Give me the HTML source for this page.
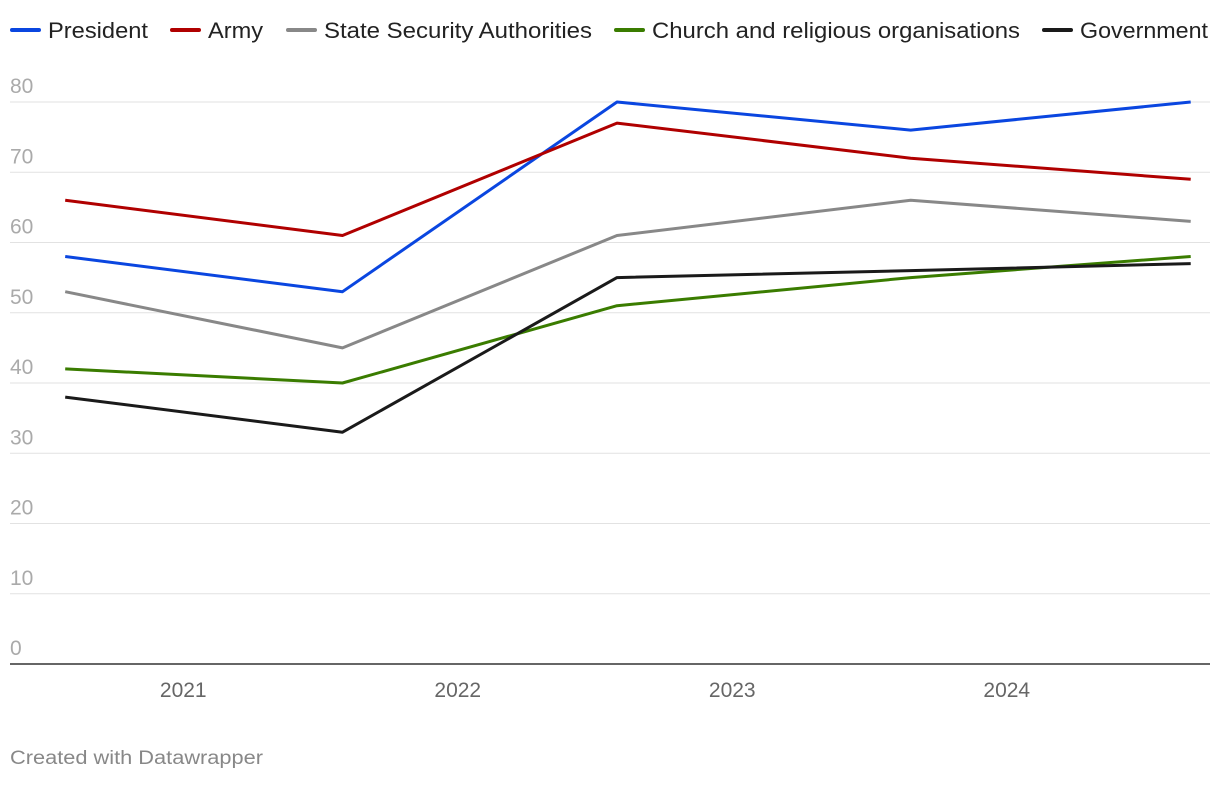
<!DOCTYPE html>
<html><head><meta charset="utf-8"><style>
body{margin:0;background:#fff;font-family:"Liberation Sans",Roboto,sans-serif;}
svg text{font-family:"Liberation Sans",sans-serif;}
</style></head><body>
<svg id="chart" width="1220" height="780" xmlns="http://www.w3.org/2000/svg"></svg>
<script>
const years = [2021, 2022, 2023, 2024];
const dates = [2021.07, 2022.08, 2023.08, 2024.15, 2025.17];
const yTicks = [0, 10, 20, 30, 40, 50, 60, 70, 80];
const seriesNames = ["President", "Army", "State Security Authorities", "Church and religious organisations", "Government"];
const seriesColors = ["#0a46e0", "#b00000", "#888888", "#3a7c00", "#1a1a1a"];
const president = [58, 53, 80, 76, 80];
const army = [66, 61, 77, 72, 69];
const ssa = [53, 45, 61, 66, 63];
const church = [42, 40, 51, 55, 58];
const government = [38, 33, 55, 56, 57];
const allSeries = [president, army, ssa, church, government];

const svg = document.getElementById('chart');
const NS = 'http://www.w3.org/2000/svg';
function y(v){ return 664 - v * 7.025; }
function x(t){ return 46 + (t - 2021) * 274.5; }
function mk(tag, attrs){ const e = document.createElementNS(NS, tag); for (const k in attrs) e.setAttribute(k, attrs[k]); svg.appendChild(e); return e; }

yTicks.forEach(v => {
  if (v > 0) {
    const l = mk('line', {x1:10, x2:1210, y1:y(v), y2:y(v), stroke:'#e2e2e2', 'stroke-width':1});
    
    
  }
  const t = mk('text', {x:10, y:y(v) - 9, fill:'#aaaaaa', 'font-size':21});
  t.textContent = v;
  
  
});
const ax = mk('line', {x1:10, x2:1210, y1:y(0), y2:y(0), stroke:'#333', 'stroke-width':1.5});



years.forEach(yr => {
  const t = mk('text', {x:x(yr + 0.5), y:697, fill:'#666', 'font-size':21, 'text-anchor':'middle'});
  t.textContent = yr;
  
  
});

allSeries.forEach((s, i) => {
  const d = s.map((v, j) => (j ? 'L' : 'M') + x(dates[j]).toFixed(1) + ',' + y(v).toFixed(1)).join('');
  const p = mk('path', {d:d, fill:'none', stroke:seriesColors[i], 'stroke-width':3, 'stroke-linejoin':'round'});
  
  
});

const legendX = [12, 172, 288, 616, 1044];
const legendW = [100, 55, 268, 368, 128];
seriesNames.forEach((n, i) => {
  const g = mk('line', {x1:legendX[i], x2:legendX[i] + 27, y1:30, y2:30, stroke:seriesColors[i], 'stroke-width':4, 'stroke-linecap':'round'});
  
  
  const t = mk('text', {x:legendX[i] + 36, y:38, fill:'#222', 'font-size':22, textLength:legendW[i], lengthAdjust:'spacingAndGlyphs'});
  t.textContent = n;
  
  
});

const f = mk('text', {x:10, y:764, fill:'#888', 'font-size':19, textLength:253, lengthAdjust:'spacingAndGlyphs'});
f.textContent = 'Created with Datawrapper';


</script>
</body></html>
